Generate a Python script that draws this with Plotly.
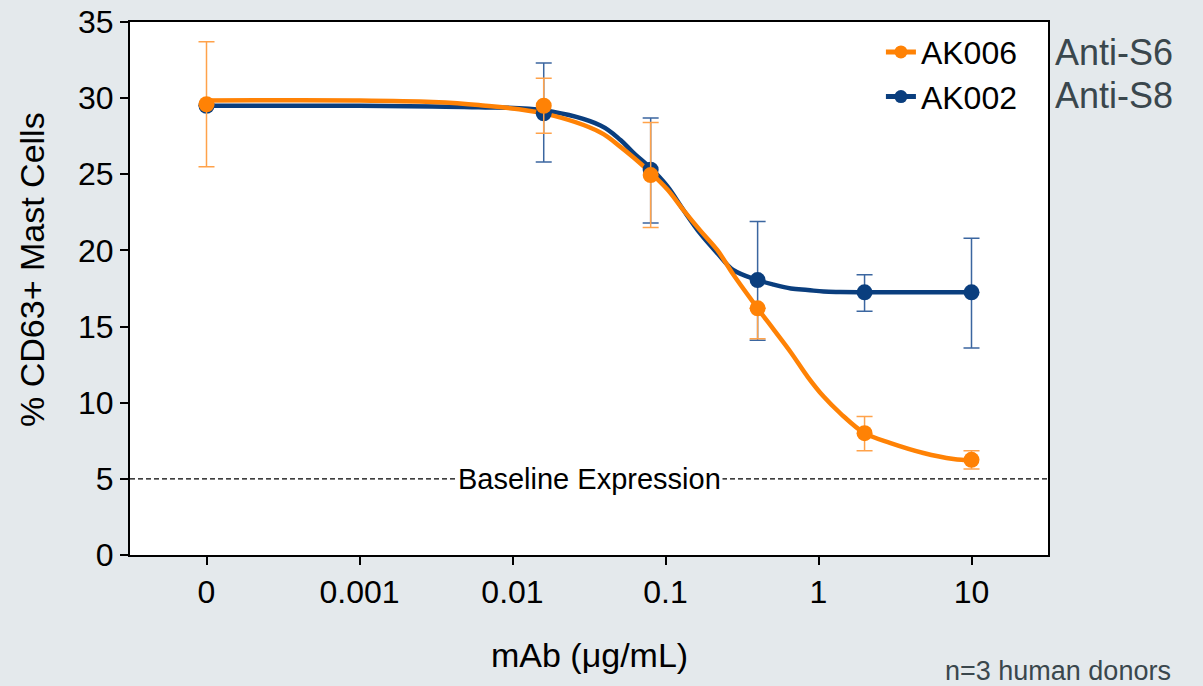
import plotly.graph_objects as go

# ---- data ----
dose = [0.0001, 0.016, 0.08, 0.4, 2, 10]          # 0.0001 stands for the "0" dose position
tick_vals = [0.0001, 0.001, 0.01, 0.1, 1, 10]
tick_text = ["0", "0.001", "0.01", "0.1", "1", "10"]

ak006_mean = [29.6, 29.5, 24.95, 16.2, 8.0, 6.25]
ak006_hi = [33.7, 31.3, 28.4, 16.2, 9.1, 6.85]
ak006_lo = [25.5, 27.7, 21.5, 14.2, 6.85, 5.65]

ak002_mean = [29.5, 29.0, 25.3, 18.05, 17.25, 17.25]
ak002_hi = [29.5, 32.3, 28.7, 21.9, 18.4, 20.8]
ak002_lo = [29.5, 25.8, 21.8, 14.1, 16.0, 13.6]

curve_x = [0.0001, 0.001, 0.003, 0.006, 0.016, 0.0376, 0.0508, 0.0618, 0.08, 0.103,
           0.131, 0.169, 0.219, 0.278, 0.4, 0.51, 0.66, 0.85, 1.08, 1.39,
           2, 2.96, 4.85, 7.63, 10]
ak006_curve = [29.85, 29.85, 29.75, 29.55, 29.0, 27.75, 26.8, 26.1, 25.1, 24.0,
               22.65, 21.3, 20.0, 18.4, 16.2, 14.8, 13.3, 11.7, 10.4, 9.3,
               8.0, 7.35, 6.7, 6.3, 6.2]
ak002_curve = [29.5, 29.5, 29.45, 29.4, 29.2, 28.2, 27.25, 26.4, 25.4, 24.2,
               22.65, 21.1, 19.8, 18.7, 18.05, 17.75, 17.5, 17.4, 17.3, 17.27,
               17.25, 17.25, 17.25, 17.25, 17.25]

baseline = 5

ORANGE = "#ff8205"
ORANGE_EB = "#ffa24a"
BLUE = "#0a3e7e"
BLUE_EB = "#3b66a0"
GRAY_TXT = "#3a474d"
BG = "#e4e9ec"
FONT = "Liberation Sans, Arial, sans-serif"

fig = go.Figure()

# legend-only entries
fig.add_trace(go.Scatter(x=[None], y=[None], mode="lines+markers", name="AK006",
                         line=dict(color=ORANGE, width=5), marker=dict(color=ORANGE, size=13)))
fig.add_trace(go.Scatter(x=[None], y=[None], mode="lines+markers", name="AK002",
                         line=dict(color=BLUE, width=5), marker=dict(color=BLUE, size=13)))

# fitted curves
fig.add_trace(go.Scatter(x=curve_x, y=ak002_curve, mode="lines", showlegend=False,
                         line=dict(color=BLUE, width=4.5, shape="spline", smoothing=1.0),
                         hoverinfo="skip"))
fig.add_trace(go.Scatter(x=curve_x, y=ak006_curve, mode="lines", showlegend=False,
                         line=dict(color=ORANGE, width=4.5, shape="spline", smoothing=1.0),
                         hoverinfo="skip"))

# points with error bars
def eb(mean, hi, lo, color):
    return dict(type="data", symmetric=False,
                array=[h - m for h, m in zip(hi, mean)],
                arrayminus=[m - l for m, l in zip(mean, lo)],
                color=color, thickness=1.5, width=8)

fig.add_trace(go.Scatter(x=dose, y=ak002_mean, mode="markers", showlegend=False,
                         marker=dict(color=BLUE, size=16),
                         error_y=eb(ak002_mean, ak002_hi, ak002_lo, BLUE_EB)))
fig.add_trace(go.Scatter(x=dose, y=ak006_mean, mode="markers", showlegend=False,
                         marker=dict(color=ORANGE, size=16),
                         error_y=eb(ak006_mean, ak006_hi, ak006_lo, ORANGE_EB)))

# baseline
fig.add_shape(type="line", xref="paper", x0=0, x1=1, yref="y", y0=baseline, y1=baseline,
              line=dict(color="black", width=1.3, dash="5px,3px"))
fig.add_annotation(x=0.5, xref="paper", y=baseline, yref="y", text="Baseline Expression",
                   showarrow=False, bgcolor="white", font=dict(size=29, color="black", family=FONT),
                   borderpad=1)

fig.add_annotation(x=1.005, xref="paper", y=0.942, yref="paper", text="Anti-S6",
                   showarrow=False, xanchor="left", yanchor="middle",
                   font=dict(size=36, color=GRAY_TXT, family=FONT))
fig.add_annotation(x=1.005, xref="paper", y=0.863, yref="paper", text="Anti-S8",
                   showarrow=False, xanchor="left", yanchor="middle",
                   font=dict(size=36, color=GRAY_TXT, family=FONT))
fig.add_annotation(x=1.136, xref="paper", y=-0.2176, yref="paper", text="n=3 human donors",
                   showarrow=False, xanchor="right", yanchor="middle",
                   font=dict(size=27, color=GRAY_TXT, family=FONT))

# axis titles
fig.add_annotation(x=0.5, xref="paper", y=-0.1876, yref="paper", text="mAb (\u03bcg/mL)",
                   showarrow=False, xanchor="center", yanchor="middle",
                   font=dict(size=34, color="black", family=FONT))
fig.add_annotation(x=-0.1068, xref="paper", y=0.5366, yref="paper", text="% CD63+ Mast Cells",
                   showarrow=False, xanchor="center", yanchor="middle", textangle=-90,
                   font=dict(size=34, color="black", family=FONT))

fig.update_layout(
    width=1203, height=686,
    margin=dict(l=130, r=155, t=22, b=131),
    paper_bgcolor=BG, plot_bgcolor="white",
    font=dict(family=FONT, color="black", size=32),
    legend=dict(x=0.818, xanchor="left", y=0.995, yanchor="top", bgcolor="rgba(0,0,0,0)",
                font=dict(size=32), itemwidth=30, tracegroupgap=0),
    showlegend=True,
)
fig.update_xaxes(type="log", range=[-4.5, 1.5], tickvals=tick_vals, ticktext=tick_text,
                 showgrid=False, zeroline=False, ticks="outside", ticklen=8, tickwidth=1.5,
                 tickcolor="black", showline=True, linecolor="black", linewidth=2, mirror=True,
                 tickfont=dict(size=32), automargin=False, ticklabeloverflow="allow")
fig.update_yaxes(range=[0, 35], dtick=5, showgrid=False, zeroline=False, ticks="outside",
                 ticklen=8, tickwidth=1.5, tickcolor="black", showline=True, linecolor="black",
                 linewidth=2, mirror=True, tickfont=dict(size=32), automargin=False,
                 ticklabeloverflow="allow")

fig.write_html("out.html",
               config={"displayModeBar": False},
               post_script=("document.body.style.margin='0';"
                            "document.body.style.background='%s';" % BG))
